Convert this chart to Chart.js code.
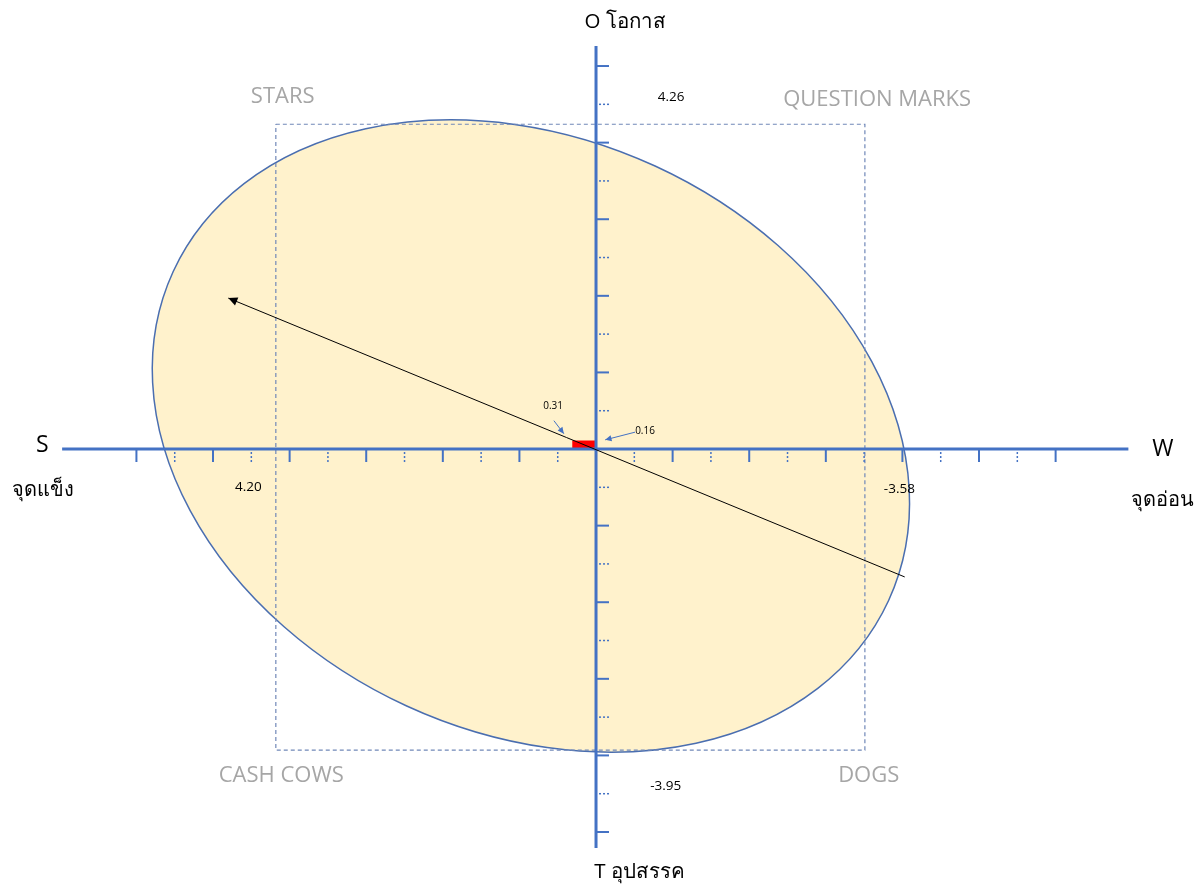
<!DOCTYPE html>
<html lang="th">
<head>
<meta charset="UTF-8">
<title>SWOT Matrix</title>
<script src="https://cdn.jsdelivr.net/npm/chart.js"></script>
<style>
  body { margin: 0; background: #ffffff; }
  #wrap { width: 1202px; height: 891px; }
</style>
</head>
<body>
<div id="wrap"><canvas id="swot" width="1202" height="891"></canvas></div>
<script>
// ---- ค่าที่อ่านจากภาพ ----
const scoreS = 4.20, scoreW = -3.58, scoreO = 4.26, scoreT = -3.95;
const diffSW = 0.31, diffOT = 0.16;
const redBoxHeight = 0.11;
// กรอบเส้นประตามที่วาดในภาพ (ซ้าย, ขวา, บน, ล่าง)
const frameS = 4.18, frameW = -3.51, frameO = 4.24, frameT = -3.93;
const quadrantNames = ['STARS', 'QUESTION MARKS', 'CASH COWS', 'DOGS'];
const axisNames = ['S', 'W', 'O โอกาส', 'T อุปสรรค'];
const axisThai = ['จุดแข็ง', 'จุดอ่อน'];
const xMajorTicks = [6, 5, 4, 3, 2, 1, -1, -2, -3, -4, -5, -6];
const xMinorTicks = [5.5, 4.5, 3.5, 2.5, 1.5, 0.5, -0.5, -1.5, -2.5, -3.5, -4.5, -5.5];
const yMajorTicks = [5, 4, 3, 2, 1, -1, -2, -3, -4, -5];
const yMinorTicks = [4.5, 3.5, 2.5, 1.5, 0.5, -0.5, -1.5, -2.5, -3.5, -4.5];
const xAxisEnds = [6.97, -6.95];
const yAxisEnds = [5.26, -5.21];
const arrowStart = [-4.03, -1.67];
const arrowEnd = [4.80, 1.97];
const ellipseCenter = [0.85, 0.17];
const ellipseRadii = [5.14, 3.88];
const ellipseTiltDeg = 24.7;

const BLUE = '#4472C4';
const FONT = '"Open Sans", "Noto Sans", sans-serif';

// ช่วยแปลงค่าเป็นพิกเซลผ่านสเกลของ Chart.js
function px(chart, x, y) {
  return [chart.scales.x.getPixelForValue(x), chart.scales.y.getPixelForValue(y)];
}

function arrowHead(ctx, x1, y1, x2, y2, size, color) {
  const a = Math.atan2(y2 - y1, x2 - x1);
  ctx.save();
  ctx.fillStyle = color;
  ctx.beginPath();
  ctx.moveTo(x2, y2);
  ctx.lineTo(x2 - size * Math.cos(a - 0.45), y2 - size * Math.sin(a - 0.45));
  ctx.lineTo(x2 - size * Math.cos(a + 0.45), y2 - size * Math.sin(a + 0.45));
  ctx.closePath();
  ctx.fill();
  ctx.restore();
}

function text(ctx, chart, str, x, y, size, color, align) {
  const p = px(chart, x, y);
  ctx.save();
  ctx.font = size + 'px ' + FONT;
  ctx.fillStyle = color;
  ctx.textAlign = align || 'center';
  ctx.textBaseline = 'middle';
  ctx.fillText(str, p[0], p[1]);
  ctx.restore();
}

const swotPlugin = {
  id: 'swotExtras',
  beforeDatasetsDraw(chart) {
    // วงรีพื้นหลัง
    const ctx = chart.ctx;
    const c = px(chart, ellipseCenter[0], ellipseCenter[1]);
    const rx = Math.abs(chart.scales.x.getPixelForValue(ellipseRadii[0]) - chart.scales.x.getPixelForValue(0));
    const ry = Math.abs(chart.scales.y.getPixelForValue(ellipseRadii[1]) - chart.scales.y.getPixelForValue(0));
    ctx.save();
    ctx.beginPath();
    ctx.ellipse(c[0], c[1], rx, ry, ellipseTiltDeg * Math.PI / 180, 0, Math.PI * 2);
    ctx.fillStyle = '#FFF2CC';
    ctx.fill();
    ctx.lineWidth = 1.5;
    ctx.strokeStyle = '#4A6EB0';
    ctx.stroke();
    ctx.restore();
  },
  afterDatasetsDraw(chart) {
    const ctx = chart.ctx;
    const o = px(chart, 0, 0);

    // ขีดแกน
    ctx.save();
    ctx.strokeStyle = BLUE;
    ctx.lineWidth = 2;
    xMajorTicks.forEach(v => {
      const x = chart.scales.x.getPixelForValue(v);
      ctx.beginPath(); ctx.moveTo(x, o[1]); ctx.lineTo(x, o[1] + 13); ctx.stroke();
    });
    yMajorTicks.forEach(v => {
      const y = chart.scales.y.getPixelForValue(v);
      ctx.beginPath(); ctx.moveTo(o[0], y); ctx.lineTo(o[0] + 13, y); ctx.stroke();
    });
    ctx.lineWidth = 1.5;
    ctx.setLineDash([2, 2]);
    xMinorTicks.forEach(v => {
      const x = chart.scales.x.getPixelForValue(v);
      ctx.beginPath(); ctx.moveTo(x, o[1] + 3); ctx.lineTo(x, o[1] + 13); ctx.stroke();
    });
    yMinorTicks.forEach(v => {
      const y = chart.scales.y.getPixelForValue(v);
      ctx.beginPath(); ctx.moveTo(o[0] + 3, y); ctx.lineTo(o[0] + 13, y); ctx.stroke();
    });
    ctx.restore();

    // หัวลูกศรเส้นหลัก
    const a1 = px(chart, arrowStart[0], arrowStart[1]);
    const a2 = px(chart, arrowEnd[0], arrowEnd[1]);
    arrowHead(ctx, a1[0], a1[1], a2[0], a2[1], 10, '#000');

    // ลูกศรชี้ค่า 0.31 และ 0.16
    ctx.save();
    ctx.strokeStyle = BLUE;
    ctx.lineWidth = 1;
    const c1 = px(chart, 0.55, 0.37), c2 = px(chart, 0.42, 0.20);
    ctx.beginPath(); ctx.moveTo(c1[0], c1[1]); ctx.lineTo(c2[0], c2[1]); ctx.stroke();
    arrowHead(ctx, c1[0], c1[1], c2[0], c2[1], 7, BLUE);
    const d1 = px(chart, -0.51, 0.22), d2 = px(chart, -0.12, 0.12);
    ctx.beginPath(); ctx.moveTo(d1[0], d1[1]); ctx.lineTo(d2[0], d2[1]); ctx.stroke();
    arrowHead(ctx, d1[0], d1[1], d2[0], d2[1], 7, BLUE);
    ctx.restore();

    text(ctx, chart, diffSW.toFixed(2), 0.56, 0.56, 10, '#000');
    text(ctx, chart, diffOT.toFixed(2), -0.64, 0.235, 10, '#000');

    // ค่าคะแนน
    text(ctx, chart, scoreS.toFixed(2), 4.54, -0.50, 13.5, '#000');
    text(ctx, chart, scoreW.toFixed(2), -3.96, -0.52, 13.5, '#000');
    text(ctx, chart, scoreO.toFixed(2), -0.98, 4.60, 13.5, '#000');
    text(ctx, chart, scoreT.toFixed(2), -0.91, -4.40, 13.5, '#000');

    // ชื่อแต่ละส่วน
    text(ctx, chart, quadrantNames[0], 4.09, 4.60, 22, '#A6A6A6');
    text(ctx, chart, quadrantNames[1], -3.67, 4.56, 22, '#A6A6A6');
    text(ctx, chart, quadrantNames[2], 4.11, -4.27, 22, '#A6A6A6');
    text(ctx, chart, quadrantNames[3], -3.56, -4.26, 22, '#A6A6A6');

    // ชื่อแกน
    text(ctx, chart, axisNames[0], 7.23, 0.05, 23, '#000');
    text(ctx, chart, axisThai[0], 7.22, -0.54, 20, '#000');
    text(ctx, chart, axisNames[1], -7.40, -0.01, 23, '#000');
    text(ctx, chart, axisThai[1], -7.39, -0.67, 20, '#000');
    text(ctx, chart, axisNames[2], -0.38, 5.57, 20.5, '#000');
    text(ctx, chart, axisNames[3], -0.57, -5.52, 20.5, '#000');
  }
};

const ctx = document.getElementById('swot').getContext('2d');
new Chart(ctx, {
  type: 'scatter',
  data: {
    datasets: [
      {
        // เส้นลูกศรผลรวม
        data: [{ x: arrowStart[0], y: arrowStart[1] }, { x: arrowEnd[0], y: arrowEnd[1] }],
        showLine: true, borderColor: '#000', borderWidth: 1, pointRadius: 0, order: 0
      },
      {
        // แกนนอน S-W
        data: [{ x: xAxisEnds[0], y: 0 }, { x: xAxisEnds[1], y: 0 }],
        showLine: true, borderColor: BLUE, borderWidth: 3, pointRadius: 0, order: 1
      },
      {
        // แกนตั้ง O-T
        data: [{ x: 0, y: yAxisEnds[0] }, { x: 0, y: yAxisEnds[1] }],
        showLine: true, borderColor: BLUE, borderWidth: 3, pointRadius: 0, order: 1
      },
      {
        // กล่องสีแดง
        data: [{ x: 0, y: 0 }, { x: diffSW, y: 0 }, { x: diffSW, y: redBoxHeight }, { x: 0, y: redBoxHeight }, { x: 0, y: 0 }],
        showLine: true, borderColor: '#FF0000', borderWidth: 0, backgroundColor: '#FF0000',
        fill: 'shape', pointRadius: 0, tension: 0, order: 2
      },
      {
        // กรอบเส้นประ
        data: [{ x: frameS, y: frameO }, { x: frameW, y: frameO }, { x: frameW, y: frameT }, { x: frameS, y: frameT }, { x: frameS, y: frameO }],
        showLine: true, borderColor: '#7088B8', borderWidth: 1.2, borderDash: [4, 3], pointRadius: 0, order: 3
      }
    ]
  },
  options: {
    responsive: false,
    animation: false,
    layout: { padding: 0 },
    plugins: { legend: { display: false }, tooltip: { enabled: false } },
    scales: {
      x: { type: 'linear', reverse: true, min: -7.911, max: 7.781, display: false },
      y: { type: 'linear', min: -5.770, max: 5.862, display: false }
    }
  },
  plugins: [swotPlugin]
});
</script>
</body>
</html>
